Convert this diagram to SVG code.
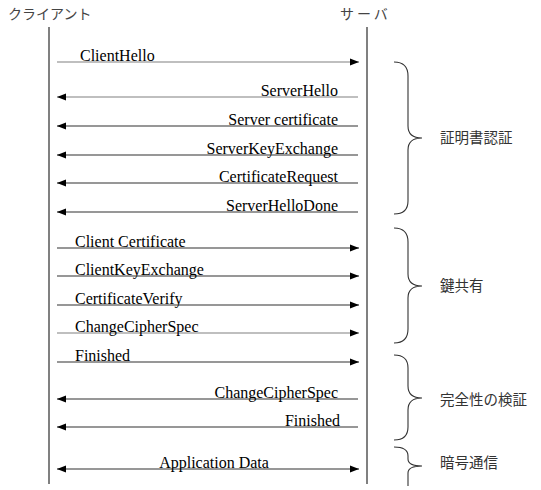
<svg xmlns="http://www.w3.org/2000/svg" width="541" height="490" viewBox="0 0 541 490">
<style>
.life{stroke:#808080;stroke-width:2;fill:none}
.msg{stroke:#303030;stroke-width:1.2;fill:none}
.g{stroke:#808080}
.lbl{font-family:"Liberation Serif","Times New Roman",serif;font-size:16px;fill:#000}
.hdr{font-family:"Noto Sans CJK JP",sans-serif;font-size:14px;fill:#444}
.grp{font-family:"Noto Sans CJK JP",sans-serif;font-size:14.5px;fill:#333}
.brace{stroke:#333;stroke-width:1.1;fill:none}
</style>
<defs>
<marker id="ah" markerUnits="userSpaceOnUse" markerWidth="10" markerHeight="8" refX="9" refY="4" orient="auto-start-reverse">
<path d="M0,0.5 L9,4 L0,7.5 Z" fill="#000"/>
</marker>
</defs>
<g id="client">
<text class="hdr" x="8" y="19">クライアント</text>
<line class="life" x1="49" y1="27" x2="49" y2="484"/>
</g>
<g id="server">
<text class="hdr" x="340" y="19" letter-spacing="3">サーバ</text>
<line class="life" x1="367" y1="27" x2="367" y2="484"/>
</g>
<g id="connectors">
<line class="msg g" x1="57" y1="62" x2="359" y2="62" marker-end="url(#ah)"/>
<line class="msg g" x1="358" y1="97" x2="57" y2="97" marker-end="url(#ah)"/>
<line class="msg" x1="358" y1="126" x2="57" y2="126" marker-end="url(#ah)"/>
<line class="msg" x1="358" y1="155" x2="57" y2="155" marker-end="url(#ah)"/>
<line class="msg" x1="358" y1="183" x2="57" y2="183" marker-end="url(#ah)"/>
<line class="msg" x1="358" y1="212" x2="57" y2="212" marker-end="url(#ah)"/>
<line class="msg" x1="57" y1="248" x2="359" y2="248" marker-end="url(#ah)"/>
<line class="msg" x1="57" y1="276" x2="359" y2="276" marker-end="url(#ah)"/>
<line class="msg" x1="57" y1="305" x2="359" y2="305" marker-end="url(#ah)"/>
<line class="msg g" x1="57" y1="333" x2="359" y2="333" marker-end="url(#ah)"/>
<line class="msg" x1="57" y1="362" x2="359" y2="362" marker-end="url(#ah)"/>
<line class="msg" x1="358" y1="399" x2="57" y2="399" marker-end="url(#ah)"/>
<line class="msg" x1="358" y1="427" x2="57" y2="427" marker-end="url(#ah)"/>
<line class="msg" x1="57" y1="469" x2="359" y2="469" marker-start="url(#ah)" marker-end="url(#ah)"/>
</g>
<g id="labels">
<text class="lbl" x="80" y="61">ClientHello</text>
<text class="lbl" x="338" y="96" text-anchor="end">ServerHello</text>
<text class="lbl" x="338" y="125" text-anchor="end">Server certificate</text>
<text class="lbl" x="338" y="154" text-anchor="end">ServerKeyExchange</text>
<text class="lbl" x="338" y="182" text-anchor="end">CertificateRequest</text>
<text class="lbl" x="338" y="211" text-anchor="end">ServerHelloDone</text>
<text class="lbl" x="75" y="247">Client Certificate</text>
<text class="lbl" x="75" y="275">ClientKeyExchange</text>
<text class="lbl" x="75" y="304">CertificateVerify</text>
<text class="lbl" x="75" y="332">ChangeCipherSpec</text>
<text class="lbl" x="75" y="361">Finished</text>
<text class="lbl" x="338" y="398" text-anchor="end">ChangeCipherSpec</text>
<text class="lbl" x="340" y="426" text-anchor="end">Finished</text>
<text class="lbl" x="214" y="468" text-anchor="middle">Application Data</text>
</g>
<g id="group-auth">
<path class="brace" d="M394,62 Q408,62 408,76 L408,126 Q408,138 422,138 Q408,138 408,150 L408,201 Q408,214 394,214"/>
<text class="grp" x="440" y="143">証明書認証</text>
</g>
<g id="group-keyshare">
<path class="brace" d="M394,228 Q408,228 408,242 L408,274 Q408,286 422,286 Q408,286 408,298 L408,329 Q408,343 394,343"/>
<text class="grp" x="440" y="291">鍵共有</text>
</g>
<g id="group-integrity">
<path class="brace" d="M394,355 Q408,355 408,368 L408,386 Q408,398 422,398 Q408,398 408,410 L408,427 Q408,440 394,440"/>
<text class="grp" x="440" y="405">完全性の検証</text>
</g>
<g id="group-encrypted">
<path class="brace" d="M394,447 Q408,447 408,456 L408,459 Q408,466 422,466 Q408,466 408,473 L408,486"/>
<text class="grp" x="440" y="468">暗号通信</text>
</g>
</svg>
